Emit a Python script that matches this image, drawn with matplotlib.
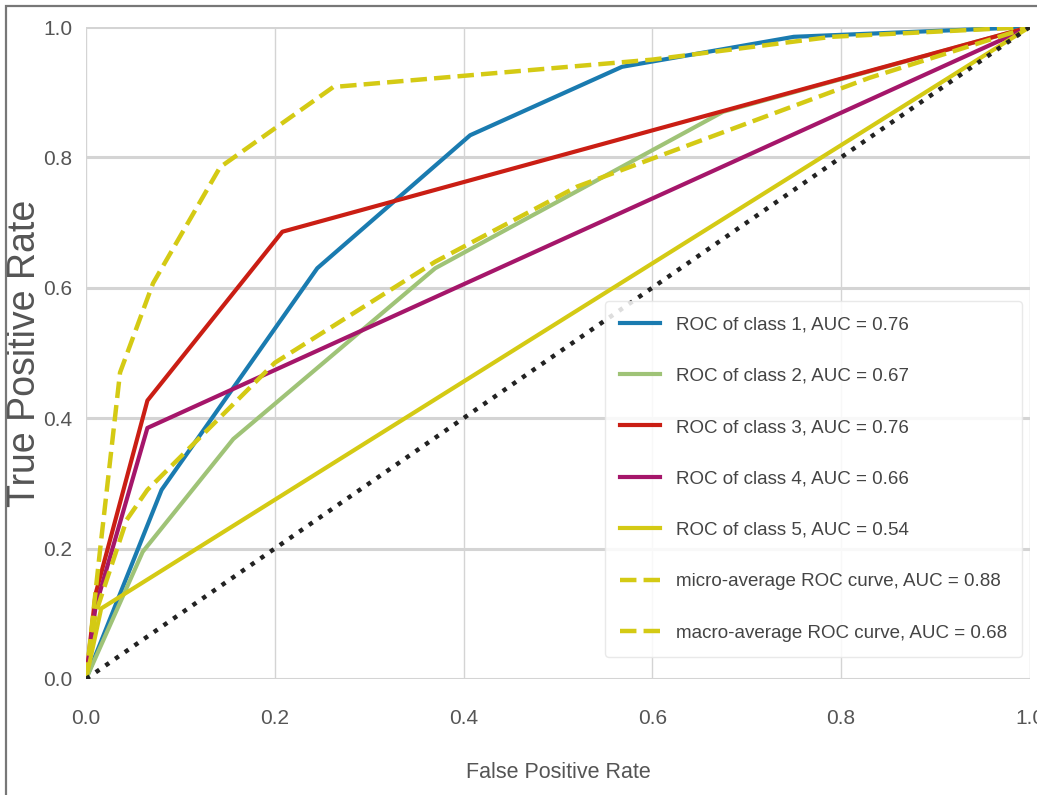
import matplotlib
matplotlib.use("Agg")
import matplotlib.pyplot as plt
from matplotlib import font_manager
from matplotlib.patches import Rectangle

# pick a narrow sans if there is one
names = {f.name for f in font_manager.fontManager.ttflist}
narrow = "Liberation Sans Narrow" if "Liberation Sans Narrow" in names else "Liberation Sans"
plt.rcParams['font.family'] = [narrow, 'DejaVu Sans']

# ROC curves
fpr1 = [0.0, 0.08, 0.245, 0.407, 0.568, 0.75, 1.0]
tpr1 = [0.0, 0.29, 0.63, 0.834, 0.939, 0.985, 1.0]
fpr2 = [0.0, 0.06, 0.156, 0.37, 0.675, 1.0]
tpr2 = [0.0, 0.195, 0.368, 0.63, 0.87, 1.0]
fpr3 = [0.0, 0.01, 0.065, 0.208, 1.0]
tpr3 = [0.0, 0.13, 0.427, 0.686, 1.0]
fpr4 = [0.0, 0.01, 0.065, 1.0]
tpr4 = [0.0, 0.11, 0.385, 1.0]
fpr5 = [0.0, 0.016, 1.0]
tpr5 = [0.0, 0.108, 1.0]
fpr_micro = [0.0, 0.015, 0.036, 0.071, 0.142, 0.262, 0.6, 0.79, 1.0]
tpr_micro = [0.0, 0.2, 0.47, 0.607, 0.785, 0.908, 0.95, 0.985, 1.0]
fpr_macro = [0.0, 0.01, 0.043, 0.065, 0.2, 0.37, 0.52, 0.83, 1.0]
tpr_macro = [0.0, 0.1, 0.244, 0.29, 0.485, 0.64, 0.755, 0.922, 1.0]

auc_classes = [0.76, 0.67, 0.76, 0.66, 0.54]
auc_micro = 0.88
auc_macro = 0.68
colors = ['#1a7bb0', '#9fc377', '#ca1e14', '#a5166a', '#d4ca14']

fig = plt.figure(figsize=(10.37, 7.95), dpi=100)
ax = fig.add_axes([0.083, 0.146, 0.91, 0.82])

curves = [(fpr1, tpr1), (fpr2, tpr2), (fpr3, tpr3), (fpr4, tpr4), (fpr5, tpr5)]
for i, (f, t) in enumerate(curves):
    ax.plot(f, t, color=colors[i], lw=3,
            label="ROC of class {}, AUC = {:0.2f}".format(i + 1, auc_classes[i]))
ax.plot(fpr_micro, tpr_micro, '--', color='#d4ca14', lw=3.2,
        label="micro-average ROC curve, AUC = {:0.2f}".format(auc_micro))
ax.plot(fpr_macro, tpr_macro, '--', color='#d4ca14', lw=3.2,
        label="macro-average ROC curve, AUC = {:0.2f}".format(auc_macro))
ax.plot([0, 1], [0, 1], ':', color='#222222', lw=3.2)

ax.set_xlim(0, 1)
ax.set_ylim(0, 1)
ax.set_xticks([0, 0.2, 0.4, 0.6, 0.8, 1.0])
ax.set_yticks([0, 0.2, 0.4, 0.6, 0.8, 1.0])
ax.tick_params(length=0, labelsize=15, labelcolor='#555555')
ax.tick_params(axis='x', pad=22)
ax.tick_params(axis='y', pad=10)
for s in ax.spines.values():
    s.set_visible(False)
ax.set_axisbelow(True)
ax.yaxis.grid(True, color='#d4d4d4', lw=2.2)
ax.xaxis.grid(True, color='#d4d4d4', lw=1.0)

ax.set_xlabel("False Positive Rate", fontsize=15.5, color='#555555', labelpad=24)
ax.set_ylabel("True Positive Rate", fontsize=27, color='#555555', labelpad=0,
              family=['Liberation Sans', 'DejaVu Sans'])

leg = ax.legend(loc='lower right', bbox_to_anchor=(0.9915, 0.034), borderaxespad=0,
                fontsize=13.5, frameon=True, fancybox=True, framealpha=0.85,
                edgecolor='#e6e6e6', handlelength=2.1, handletextpad=0.85,
                labelspacing=1.83, borderpad=0.8)
for txt in leg.get_texts():
    txt.set_color('#444444')

# thin frame around the picture
fig.patches.append(Rectangle((6 / 1037, -0.05), 1.1, 1.05 - 6 / 795, fill=False,
                             edgecolor='#777777', lw=1.6, transform=fig.transFigure))

fig.savefig("out.png", dpi=100)
